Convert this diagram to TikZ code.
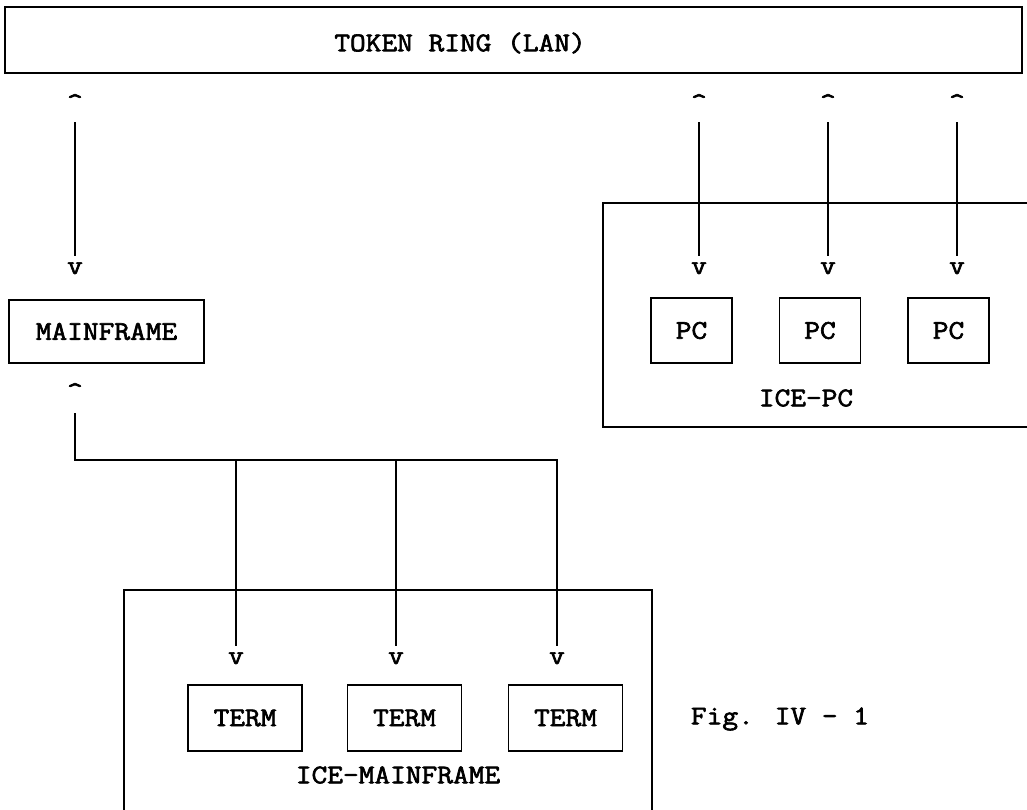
\documentclass[tikz,border=0pt]{standalone}
\usepackage{fontspec}
% typewriter text: widened a little and thickened by stroking the glyph outlines
\newcommand{\typed}[1]{\scalebox{1.13}[1]{\special{pdf:literal direct 2 Tr 0.6 w}#1\special{pdf:literal direct 0 Tr 1 w}}}
\begin{document}
\begin{tikzpicture}[x=1pt,y=-1pt,
  every node/.style={font=\ttfamily\fontsize{27}{31}\selectfont, inner sep=0pt},
  box/.style={draw, line width=1.5pt},
  frame/.style={line width=1.5pt},
  wire/.style={line width=2pt},
  tip/.style={anchor=base},
]
\useasboundingbox (0,0) rectangle (1027,810);
\clip (0,0) rectangle (1027,810);

% LAN bus
\node[box, minimum width=1017pt, minimum height=66pt] (ring) at (513.5,40) {};
\node (ringlabel) at (460,43) {\typed{TOKEN RING (LAN)}};

% containers
\draw[frame] (603,203) rectangle (1040,427);
\node (icepc) at (806,398) {\typed{ICE-PC}};
\draw[frame] (124,590) rectangle (652,840);
\node (icemf) at (398,775) {\typed{ICE-MAINFRAME}};

% hosts
\node[box, minimum width=195pt, minimum height=63pt] (mf) at (106.5,331.5) {\typed{MAINFRAME}};
\node[box, minimum width=81pt, minimum height=65pt] (pc1) at (691.5,330.5) {\typed{PC}};
\node[box, minimum width=81pt, minimum height=65pt] (pc2) at (820,330.5) {\typed{PC}};
\node[box, minimum width=81pt, minimum height=65pt] (pc3) at (948.5,330.5) {\typed{PC}};
\node[box, minimum width=114pt, minimum height=66pt] (t1) at (245,718) {\typed{TERM}};
\node[box, minimum width=114pt, minimum height=66pt] (t2) at (404.5,718) {\typed{TERM}};
\node[box, minimum width=114pt, minimum height=66pt] (t3) at (565.5,718) {\typed{TERM}};

\node (fig) at (780,719) {\typed{Fig. IV - 1}};

% arrow heads drawn as typed characters
\node[tip] (u0) at (75,111) {\typed{\textasciicircum}};
\node[tip] (u1) at (699,111) {\typed{\textasciicircum}};
\node[tip] (u2) at (828,111) {\typed{\textasciicircum}};
\node[tip] (u3) at (957,111) {\typed{\textasciicircum}};
\node[tip] (d0) at (75,274) {\typed{v}};
\node[tip] (d1) at (699,274) {\typed{v}};
\node[tip] (d2) at (828,274) {\typed{v}};
\node[tip] (d3) at (957,274) {\typed{v}};
\node[tip] (mfu) at (75,400) {\typed{\textasciicircum}};
\node[tip] (tv1) at (236,664) {\typed{v}};
\node[tip] (tv2) at (396,664) {\typed{v}};
\node[tip] (tv3) at (557,664) {\typed{v}};

% LAN links
\foreach \i in {0,1,2,3}
  \draw[wire, shorten <=11pt, shorten >=6pt] (u\i) -- (d\i);

% terminal bus
\coordinate (busL) at (75,460);
\draw[wire, shorten <=13pt, shorten >=6pt] (mfu) -- (busL) -- (busL -| tv3) -- (tv3);
\draw[wire, shorten >=6pt] (busL -| tv1) -- (tv1);
\draw[wire, shorten >=6pt] (busL -| tv2) -- (tv2);
\end{tikzpicture}
\end{document}
